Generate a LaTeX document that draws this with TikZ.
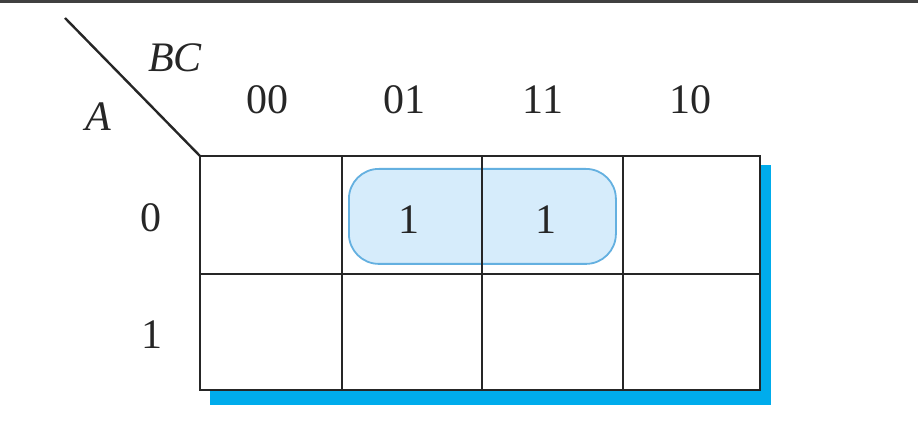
\documentclass[tikz,border=0pt]{standalone}
\usepackage{fontspec}
\setmainfont{Liberation Serif}
\definecolor{shadowblue}{RGB}{0,172,236}
\definecolor{groupfill}{RGB}{214,236,251}
\definecolor{groupline}{RGB}{100,176,224}
\begin{document}
\begin{tikzpicture}[x=1pt,y=-1pt,
  gridline/.style={line width=2.8pt, draw=black!85},
  lbl/.style={font=\fontsize{42}{42}\selectfont, text=black!85, inner sep=0pt},
  shadowfill/.style={fill=shadowblue, draw=none},
  groupbox/.style={rounded corners=30pt, fill=groupfill, draw=groupline, line width=1.8pt}]
\useasboundingbox (0,0) rectangle (918,446);
% top rule
\draw[line width=2.4pt, black!75] (0,1.5) coordinate (tl) -- (918,1.5) coordinate (tr);
% shadow
\fill[shadowfill] (210,165) rectangle (771,405);
% grid
\fill[white] (200,156) rectangle (760,390);
% group
\node[groupbox, minimum width=267pt, minimum height=95pt, anchor=north west] (grp) at (348,168) {};
\draw[gridline] (200,156) rectangle (760,390);
\draw[gridline] (200,274) coordinate (r1) -- (760,274) coordinate (r2);
\draw[gridline] (342,156) coordinate (c1a) -- (342,390) coordinate (c1b);
\draw[gridline] (482,156) coordinate (c2a) -- (482,390) coordinate (c2b);
\draw[gridline] (623,156) coordinate (c3a) -- (623,390) coordinate (c3b);
% diagonal
\coordinate (d1) at (65,18);
\coordinate (d2) at (200,156);
\draw[line width=2.4pt, black!85] (d1) -- (d2);
% labels
\node[lbl] (bc) at (175,58) {\itshape BC};
\node[lbl] (a) at (98,117) {\itshape A};
\node[lbl] (h00) at (267,100) {00};
\node[lbl] (h01) at (404,100) {01};
\node[lbl] (h11) at (543,100) {11};
\node[lbl] (h10) at (690,100) {10};
\node[lbl] (v0) at (151,218) {0};
\node[lbl] (v1) at (152,335) {1};
\node[lbl] (m1) at (409,220) {1};
\node[lbl] (m2) at (546,220) {1};
\end{tikzpicture}
\end{document}
